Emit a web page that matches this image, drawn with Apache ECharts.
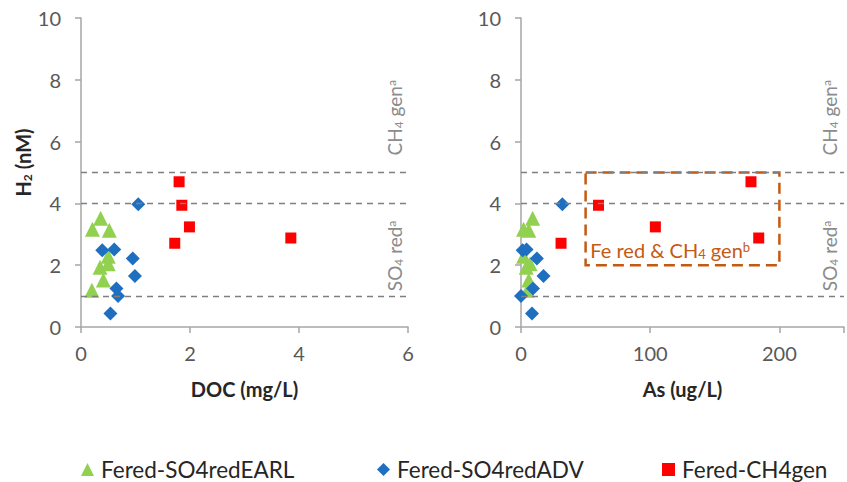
<!DOCTYPE html>
<html>
<head>
<meta charset="utf-8">
<script src="https://cdn.jsdelivr.net/npm/echarts@6/dist/echarts.min.js"></script>
<style>
  html, body { margin: 0; padding: 0; background: #fff; }
  #chart { width: 847px; height: 482px; }
</style>
</head>
<body>
<div id="chart"></div>
<script>
// H2 vs DOC and As, three groups of wells
var seriesNames = ['Fered-SO4redEARL', 'Fered-SO4redADV', 'Fered-CH4gen'];

var earlDoc = [0.36, 0.21, 0.52, 0.50, 0.35, 0.50, 0.41, 0.20];
var earlAs  = [9, 2, 6, 2, 4, 7, 6, 5];
var earlH2  = [3.52, 3.16, 3.13, 2.29, 1.93, 2.05, 1.52, 1.19];

var advDoc = [1.05, 0.39, 0.61, 0.95, 0.99, 0.65, 0.68, 0.54];
var advAs  = [32, 1.3, 4.3, 12.3, 17.4, 9.3, 0, 8.5];
var advH2  = [3.97, 2.48, 2.51, 2.22, 1.65, 1.25, 1.00, 0.44];

var ch4Doc = [1.80, 1.85, 1.99, 1.72, 3.85];
var ch4As  = [178, 60, 104, 31, 184];
var ch4H2  = [4.70, 3.94, 3.24, 2.71, 2.88];

var thresholds = [1, 4, 5];          // dashed H2 reference levels
var feBox = [[50, 5], [200, 2]];     // Fe red & CH4 gen zone (As, H2)

var green = '#92D050', blue = '#1F6FC0', red = '#FF0000', orange = '#C65911';
var axisGray = '#A6A6A6', labelGray = '#595959', noteGray = '#8C8C8C';
var font = 'Lato, "Open Sans", sans-serif';

function pairs(xs, ys) {
  return xs.map(function(x, i) { return [x, ys[i]]; });
}

var noteRich = {
  t: { fontSize: 19, color: noteGray, fontFamily: font },
  s: { fontSize: 12, color: noteGray, fontFamily: font, verticalAlign: 'bottom', lineHeight: 19 },
  p: { fontSize: 12, color: noteGray, fontFamily: font, verticalAlign: 'top', lineHeight: 19 }
};

function notes(xv) {
  return {
    symbol: 'circle',
    symbolSize: 1,
    itemStyle: { color: 'rgba(0,0,0,0)' },
    label: { show: true, position: 'inside', rotate: 90, rich: noteRich },
    data: [
      { coord: [xv, 6.77], label: { formatter: '{t|CH}{s|4}{t| gen}{p|a}' } },
      { coord: [xv, 2.3], label: { formatter: '{t|SO}{s|4}{t| red}{p|a}' } }
    ]
  };
}

function refLines() {
  return {
    silent: true,
    symbol: 'none',
    label: { show: false },
    lineStyle: { color: '#7F7F7F', type: [6, 5], width: 1.3 },
    data: thresholds.map(function(v) { return { yAxis: v }; })
  };
}

function xAxisOf(idx, name, max, interval) {
  return {
    gridIndex: idx, type: 'value', min: 0, max: max, interval: interval,
    name: name, nameLocation: 'middle', nameGap: 52,
    nameTextStyle: { fontSize: 20, fontWeight: 'bold', color: '#262626', fontFamily: font },
    axisLine: { onZero: false, lineStyle: { color: axisGray, width: 1.5 } },
    axisTick: { show: true, length: 6, lineStyle: { color: axisGray, width: 1.5 } },
    axisLabel: {
      fontSize: 20, color: labelGray, margin: 16, fontFamily: font,
      formatter: function(v) { return v > 200 ? '' : String(v); }
    },
    splitLine: { show: false }
  };
}

function yAxisOf(idx, withName) {
  var ax = {
    gridIndex: idx, type: 'value', min: 0, max: 10, interval: 2,
    axisLine: { show: true, lineStyle: { color: axisGray, width: 1.5 } },
    axisTick: { show: true, length: 6, lineStyle: { color: axisGray, width: 1.5 } },
    axisLabel: { fontSize: 20, color: labelGray, margin: 20, fontFamily: font },
    splitLine: { show: false }
  };
  if (withName) {
    ax.name = 'H{s|2} (nM)';
    ax.nameLocation = 'middle';
    ax.nameGap = 48;
    ax.nameTextStyle = {
      fontSize: 20, fontWeight: 'bold', color: '#262626', fontFamily: font,
      padding: [0, 0, 0, 20],
      rich: { s: { fontSize: 12, fontWeight: 'bold', color: '#262626', fontFamily: font, verticalAlign: 'bottom', lineHeight: 20 } }
    };
  }
  return ax;
}

function legendAt(left, name) {
  return {
    left: left, top: 453, data: [name],
    itemWidth: 13, itemHeight: 13, itemGap: 0,
    textStyle: { fontSize: 22.5, color: '#262626', fontFamily: font, padding: [0, 0, 0, 2] }
  };
}

var chart = echarts.init(document.getElementById('chart'), null, { renderer: 'svg' });
chart.setOption({
  animation: false,
  textStyle: { fontFamily: font },
  grid: [
    { left: 81, top: 18, width: 327, height: 309 },
    { left: 521, top: 18, width: 331, height: 309 }
  ],
  xAxis: [xAxisOf(0, 'DOC (mg/L)', 6, 2), xAxisOf(1, 'As (ug/L)', 250, 100)],
  yAxis: [yAxisOf(0, true), yAxisOf(1, false)],
  legend: [legendAt(76, seriesNames[0]), legendAt(372, seriesNames[1]), legendAt(657, seriesNames[2])],
  series: [
    {
      name: seriesNames[0], type: 'scatter', xAxisIndex: 0, yAxisIndex: 0,
      symbol: 'triangle', symbolSize: 15, itemStyle: { color: green, opacity: 1 },
      data: pairs(earlDoc, earlH2),
      markLine: refLines(),
      markPoint: notes(5.76)
    },
    {
      name: seriesNames[1], type: 'scatter', xAxisIndex: 0, yAxisIndex: 0,
      symbol: 'diamond', symbolSize: 14, itemStyle: { color: blue, opacity: 1 },
      data: pairs(advDoc, advH2)
    },
    {
      name: seriesNames[2], type: 'scatter', xAxisIndex: 0, yAxisIndex: 0,
      symbol: 'rect', symbolSize: 11, itemStyle: { color: red, opacity: 1 },
      data: pairs(ch4Doc, ch4H2)
    },
    {
      name: seriesNames[0], type: 'scatter', xAxisIndex: 1, yAxisIndex: 1,
      symbol: 'triangle', symbolSize: 15, itemStyle: { color: green, opacity: 1 },
      data: pairs(earlAs, earlH2),
      markLine: refLines(),
      markPoint: notes(239)
    },
    {
      name: seriesNames[1], type: 'scatter', xAxisIndex: 1, yAxisIndex: 1,
      symbol: 'diamond', symbolSize: 14, itemStyle: { color: blue, opacity: 1 },
      data: pairs(advAs, advH2)
    },
    {
      name: seriesNames[2], type: 'scatter', xAxisIndex: 1, yAxisIndex: 1,
      symbol: 'rect', symbolSize: 11, itemStyle: { color: red, opacity: 1 },
      data: pairs(ch4As, ch4H2),
      markArea: {
        silent: true,
        itemStyle: { color: 'rgba(0,0,0,0)', borderColor: orange, borderWidth: 2.5, borderType: [11, 6] },
        label: {
          show: true, position: 'insideBottomLeft', distance: 6,
          formatter: '{t|Fe red & CH}{s|4}{t| gen}{p|b}',
          rich: {
            t: { fontSize: 20, color: orange, fontFamily: font },
            s: { fontSize: 13, color: orange, fontFamily: font, verticalAlign: 'bottom', lineHeight: 20 },
            p: { fontSize: 13, color: orange, fontFamily: font, verticalAlign: 'top', lineHeight: 20 }
          }
        },
        data: [[{ coord: feBox[0] }, { coord: feBox[1] }]]
      }
    }
  ]
});
window.addEventListener('resize', function() { chart.resize(); });
</script>
</body>
</html>
